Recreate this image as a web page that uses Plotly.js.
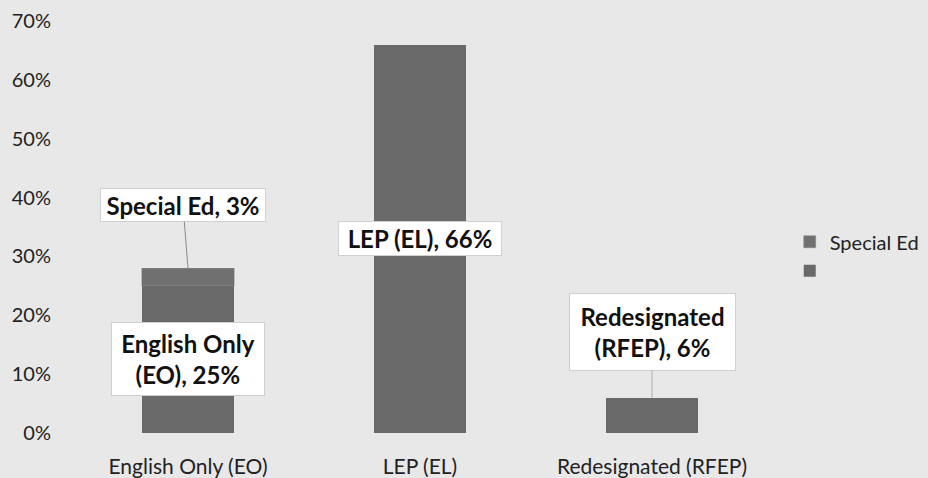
<!DOCTYPE html>
<html>
<head>
<meta charset="utf-8">
<script src="https://cdn.plot.ly/plotly-3.0.1.min.js"></script>
<style>html,body{margin:0;padding:0;background:#e8e8e8;}#chart{width:928px;height:478px;}</style>
</head>
<body>
<div id="chart"></div>
<script>
// Data
const categories = ["English Only (EO)", "LEP (EL)", "Redesignated (RFEP)"];
const groupNames = ["English Only\n(EO)", "LEP (EL)", "Redesignated\n(RFEP)"];
const mainValues = [0.25, 0.66, 0.06];
const specialEdValues = [0.03, null, null];
const specialEdName = "Special Ed";
const yTickVals = [0, 0.1, 0.2, 0.3, 0.4, 0.5, 0.6, 0.7];

const font = "Lato, 'Open Sans', sans-serif";
const labelFont = {family: font, size: 24, color: "#111"};
// label box sizes (px) per category, and for the Special Ed label
const boxSizes = [[152, 72], [162, 33], [165, 76]];

const traces = [
  {
    type: "bar", name: " ", x: categories, y: mainValues,
    marker: {color: "#696969", line: {width: 0}}, width: 0.4,
    hoverinfo: "y"
  },
  {
    type: "bar", name: specialEdName, x: categories, y: specialEdValues,
    marker: {color: "#707070", line: {color: "#8a8a8a", width: 0.5}}, width: 0.4,
    hoverinfo: "y"
  }
];

const pct = v => Math.round(v * 100) + "%";
const annotations = [];
mainValues.forEach((v, i) => {
  const txt = groupNames[i].replace("\n", "<br>") + ", " + pct(v);
  const base = {
    xref: "x", yref: "y", text: "<b>" + txt + "</b>",
    bgcolor: "#ffffff", bordercolor: "#d0d0d0", borderwidth: 1,
    borderpad: 0, font: labelFont, width: boxSizes[i][0], height: boxSizes[i][1]
  };
  if (i === 2) {
    annotations.push(Object.assign(base, {
      x: categories[i], y: v, showarrow: true, arrowhead: 0, arrowwidth: 1,
      arrowcolor: "#b0b0b0", ax: 0, ay: -66
    }));
  } else {
    annotations.push(Object.assign(base, {x: categories[i], y: v / 2, showarrow: false}));
  }
});
annotations.push({
  x: categories[0], y: mainValues[0] + specialEdValues[0], xref: "x", yref: "y",
  text: "<b>" + specialEdName + ", " + pct(specialEdValues[0]) + "</b>",
  showarrow: true, arrowhead: 0, arrowwidth: 1, arrowcolor: "#8a8a8a",
  ax: -5, ay: -63, bgcolor: "#ffffff", bordercolor: "#d0d0d0", borderwidth: 1,
  borderpad: 0, font: labelFont, width: 164, height: 32
});

const layout = {
  width: 928, height: 478,
  margin: {l: 72, r: 160, t: 21, b: 45},
  paper_bgcolor: "#e8e8e8", plot_bgcolor: "#e8e8e8",
  barmode: "stack",
  showlegend: true,
  legend: {
    xref: "container", yref: "container",
    x: 0.851, y: 0.464, xanchor: "left", yanchor: "middle",
    traceorder: "reversed", bgcolor: "rgba(0,0,0,0)",
    font: {family: font, size: 20, color: "#222"},
    itemwidth: 30, tracegroupgap: 0
  },
  xaxis: {
    type: "category", showgrid: false, zeroline: false, showline: false,
    tickfont: {family: font, size: 21, color: "#222"},
    ticks: "", ticklabelstandoff: 19, fixedrange: true
  },
  yaxis: {
    range: [0, 0.7], tickvals: yTickVals, tickformat: ".0%",
    showgrid: false, zeroline: false, showline: false,
    tickfont: {family: font, size: 20, color: "#222"},
    ticks: "", ticklabelstandoff: 20, fixedrange: true
  },
  annotations: annotations
};

Plotly.newPlot("chart", traces, layout, {displayModeBar: false, staticPlot: true});
</script>
</body>
</html>
